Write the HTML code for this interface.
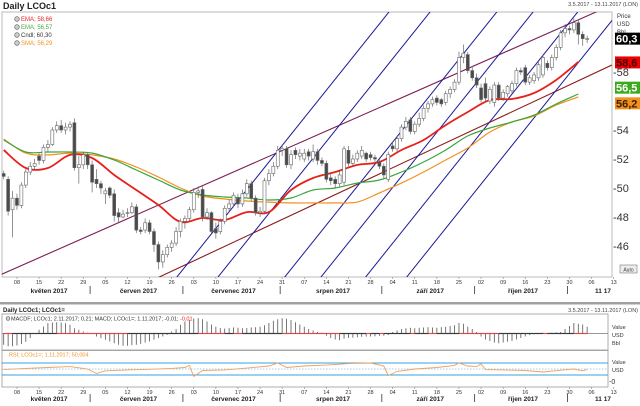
<!DOCTYPE html>
<html><head><meta charset="utf-8">
<style>
html,body{margin:0;padding:0;background:#fff;}
svg{display:block;font-family:"Liberation Sans",sans-serif;}
</style></head>
<body>
<svg id="chart" width="640" height="406" viewBox="0 0 640 406" xmlns="http://www.w3.org/2000/svg">
<defs>
<clipPath id="mainClip"><rect x="2" y="12" width="610" height="265"/></clipPath>
<clipPath id="macdClip"><rect x="2" y="314" width="606" height="36"/></clipPath>
<clipPath id="rsiClip"><rect x="2" y="351" width="606" height="36"/></clipPath>
</defs>
<text x="3" y="9" font-size="9" font-weight="bold" fill="#222">Daily LCOc1</text>
<text x="638" y="6" font-size="5.5" fill="#444" text-anchor="end">3.5.2017 - 13.11.2017 (LON)</text>
<rect x="2" y="12" width="610" height="265" fill="#fff" stroke="#bbb" stroke-width="1"/>
<g id="trend" clip-path="url(#mainClip)"></g>
<g id="mas" clip-path="url(#mainClip)"></g>
<g id="candles" clip-path="url(#mainClip)"></g>
<g font-size="6">
 <g><circle cx="17" cy="19" r="2.3" fill="#ccc" stroke="#555" stroke-width="0.6"/><text x="21" y="21" fill="#e22">EMA; 58,66</text></g>
 <g><circle cx="17" cy="27" r="2.3" fill="#ccc" stroke="#555" stroke-width="0.6"/><text x="21" y="29" fill="#4a4">EMA; 56,57</text></g>
 <g><circle cx="17" cy="35" r="2.3" fill="#ccc" stroke="#555" stroke-width="0.6"/><text x="21" y="37" fill="#333">Cndl; 60,30</text></g>
 <g><circle cx="17" cy="43" r="2.3" fill="#ccc" stroke="#555" stroke-width="0.6"/><text x="21" y="45" fill="#f39020">SMA; 56,29</text></g>
</g>
<g id="priceAxis" font-size="6">
 <text x="617" y="18" fill="#333">Price</text>
 <text x="617" y="26" fill="#333">USD</text>
 <text x="617" y="34" fill="#333">Bbl</text>
</g>
<g id="xaxisMain"></g>
<rect x="0" y="302" width="640" height="2.5" fill="#a0a0a0"/>
<text x="3" y="312" font-size="6" font-weight="bold" fill="#222">Daily LCOc1; LCOc1=</text>
<text x="638" y="312" font-size="5.5" fill="#444" text-anchor="end">3.5.2017 - 13.11.2017 (LON)</text>
<rect x="2" y="314" width="606" height="36" fill="#fff" stroke="#999" stroke-width="0.8"/>
<rect x="2" y="350.5" width="606" height="36.5" fill="#fff" stroke="#999" stroke-width="0.8"/>
<g id="macd" clip-path="url(#macdClip)"></g>
<g id="rsi" clip-path="url(#rsiClip)"></g>
<g font-size="5.5">
 <circle cx="8" cy="318.5" r="2" fill="#ccc" stroke="#555" stroke-width="0.5"/>
 <text x="11" y="320.5" fill="#333">MACDF; LCOc1; 2.11.2017; 0,21; MACD; LCOc1=; 1.11.2017; -0,01; <tspan fill="#e22">-0,01</tspan></text>
</g>
<text x="9" y="356.5" font-size="5.5" fill="#f39020">RSI; LCOc1=; 1.11.2017; 50,004</text>
<g font-size="5.5" fill="#333">
 <text x="612" y="329">Value</text><text x="612" y="337">USD</text><text x="612" y="345">Bbl</text>
</g>
<g font-size="5.5" fill="#333">
 <text x="612" y="364">Value</text><text x="612" y="372">USD</text><text x="609" y="384" font-size="7">-0</text>
</g>
<g id="xaxisLow"></g>
<g><rect x="620" y="265" width="17" height="8" fill="#eee" stroke="#777" stroke-width="0.6"/><text x="628.5" y="271.5" font-size="5" text-anchor="middle" fill="#333">Auto</text></g>
</svg>
<script>
// ---- data ----
var opens=[51.0,50.6,48.5,49.3,48.8,50.2,51.1,51.5,52.2,51.9,52.8,53.0,54.0,54.3,54.0,54.2,54.5,51.4,51.6,52.3,51.6,50.6,50.3,49.6,50.0,49.6,48.3,48.0,48.3,48.3,48.7,47.1,47.1,47.6,47.0,46.1,44.9,45.4,45.9,46.2,47.0,47.7,47.9,48.5,49.7,49.9,48.0,48.3,47.2,47.0,47.7,48.6,48.9,49.3,48.9,49.6,50.3,49.3,48.3,48.4,50.5,51.0,51.5,52.6,52.7,51.6,52.6,52.2,52.0,52.5,52.0,52.5,51.9,51.7,50.7,50.6,50.3,50.4,52.6,51.7,52.0,52.2,52.4,52.3,52.1,51.8,51.5,50.6,52.9,52.7,53.4,54.2,54.7,53.9,54.4,54.8,55.5,55.8,56.2,56.1,55.9,56.5,56.8,57.3,59.0,59.2,58.1,57.6,56.9,57.2,56.0,55.9,57.1,56.2,56.5,56.7,57.2,58.1,58.3,57.3,57.4,57.6,57.8,58.6,58.3,59.0,59.7,60.7,61.0,60.9,61.4,60.6,60.3];
var highs=[51.2,50.8,49.8,49.6,50.4,51.3,51.8,52.0,52.4,53.0,53.3,54.2,54.6,54.7,54.5,54.6,54.8,52.2,52.5,52.4,51.9,51.3,50.5,50.0,50.1,49.9,48.6,48.5,48.6,49.0,48.9,47.3,47.9,47.8,47.2,46.3,45.7,46.1,46.4,47.3,47.9,48.1,48.7,50.0,50.1,50.1,48.6,48.4,47.6,47.9,48.8,49.2,49.7,49.6,49.9,50.6,50.5,49.5,48.7,50.7,51.3,51.8,52.9,53.0,52.9,52.6,52.8,52.7,52.7,52.7,53.0,52.7,52.1,51.9,51.0,50.8,51.2,52.9,52.9,52.3,52.6,52.9,52.5,52.5,52.3,52.0,51.7,52.5,53.2,53.6,54.4,54.9,54.9,54.6,55.2,55.7,56.0,56.3,56.4,56.2,56.7,57.0,57.5,59.4,59.9,59.4,58.4,57.9,57.2,57.6,57.0,57.3,57.3,56.8,57.1,57.4,58.3,58.3,58.5,57.8,58.0,58.7,59.2,58.8,59.2,59.9,60.9,61.3,61.2,61.7,61.6,60.8,60.5];
var lows=[50.6,48.1,46.6,48.5,48.6,50.0,50.9,51.2,51.6,51.7,52.5,52.9,53.8,53.8,53.7,53.9,51.2,50.3,51.3,51.3,49.7,50.0,49.6,48.9,49.3,47.7,47.6,47.9,48.0,48.2,46.9,46.8,46.9,46.8,45.6,44.4,44.5,45.2,45.6,46.0,46.6,47.2,47.7,48.3,49.3,47.7,47.8,46.9,46.5,46.8,47.5,48.3,48.7,48.6,48.7,49.4,49.1,48.1,48.0,48.2,50.2,50.8,51.3,52.2,51.4,51.3,52.0,51.9,51.8,51.9,51.8,51.6,51.5,50.4,50.2,50.0,50.1,50.2,51.5,51.5,51.8,52.0,51.8,51.9,51.8,51.3,50.6,50.4,52.5,52.5,53.2,54.0,53.7,53.7,54.2,54.6,55.2,55.6,55.7,55.6,55.7,56.2,56.6,57.1,58.6,57.9,57.4,56.9,55.9,55.9,55.8,55.6,56.0,56.0,56.3,56.5,57.0,57.8,57.1,57.1,57.2,57.4,57.6,58.1,58.1,58.8,59.5,60.4,60.6,60.7,59.9,59.8,60.0];
var closes=[50.8,48.4,49.3,48.8,50.2,51.1,51.5,51.7,51.9,52.8,53.0,54.0,54.3,54.0,54.2,54.4,51.4,51.6,52.3,51.6,50.4,50.3,50.0,49.8,49.5,48.1,48.0,48.2,48.3,48.7,47.1,47.0,47.6,47.0,46.1,44.9,45.4,45.9,46.2,47.0,47.7,47.9,48.5,49.7,49.8,48.0,48.3,47.0,46.9,47.7,48.6,48.9,49.5,48.9,49.6,50.3,49.3,48.3,48.4,50.5,51.0,51.5,52.6,52.7,51.6,52.3,52.3,52.4,52.4,52.2,52.5,51.9,51.7,50.6,50.5,50.3,50.9,52.7,51.7,52.0,52.4,52.6,52.0,52.1,52.0,51.5,50.9,52.3,52.7,53.4,54.2,54.6,53.9,54.4,54.8,55.5,55.8,56.1,55.9,55.8,56.5,56.8,57.3,59.0,59.3,58.1,57.6,57.1,56.1,56.2,56.8,57.1,56.2,56.6,57.0,57.2,58.1,58.0,57.3,57.6,57.8,58.5,59.0,58.3,59.0,59.7,60.7,61.0,60.9,61.4,60.6,60.3,60.3];
// moving averages sampled every 5 trading days (index 0,5,...,130)
var emaFast=[52.62,51.38,51.38,52.28,52.07,50.9,49.86,48.83,47.66,47.93,47.79,48.34,48.34,49.86,50.69,51.1,51.59,51.79,52.62,53.31,54.34,55.24,56.07,56.14,56.55,57.45,58.69];
var emaSlow=[53.31,52.48,52.48,52.48,52.41,51.93,51.24,50.55,49.86,49.52,49.38,49.31,49.17,49.31,49.86,50.0,50.34,50.55,51.1,51.79,52.62,53.59,54.14,54.55,55.03,55.79,56.48];
var smaLine=[53.38,52.41,52.28,52.41,52.28,52.0,51.45,50.76,50.0,49.45,49.24,49.1,49.03,48.97,48.97,48.97,49.03,49.66,50.34,51.1,51.93,52.76,53.86,54.55,54.97,55.72,56.28];
var macdHist=[-0.75,-0.85,-0.85,-0.8,-0.7,-0.55,-0.3,0.0,0.25,0.47,0.69,0.73,0.75,0.73,0.69,0.58,0.35,0.25,0.13,0.05,0.02,-0.2,-0.31,-0.42,-0.53,-0.65,-0.75,-0.82,-0.82,-0.78,-0.75,-0.69,-0.6,-0.53,-0.42,-0.31,-0.2,-0.09,0.13,0.29,0.58,0.8,0.9,1.0,1.02,0.95,0.8,0.6,0.45,0.36,0.33,0.36,0.4,0.38,0.35,0.36,0.4,0.42,0.45,0.55,0.7,0.85,0.95,1.02,0.98,0.9,0.75,0.6,0.45,0.3,0.2,0.1,0.05,-0.15,-0.3,-0.4,-0.45,-0.35,-0.3,-0.28,-0.25,-0.22,-0.2,-0.2,-0.18,-0.15,-0.15,-0.1,0.1,0.2,0.3,0.35,0.38,0.35,0.38,0.4,0.42,0.4,0.38,0.42,0.45,0.5,0.55,0.7,0.65,0.45,0.3,0.1,-0.2,-0.4,-0.5,-0.6,-0.65,-0.6,-0.55,-0.5,-0.4,-0.3,-0.2,-0.1,-0.05,0.02,0.05,0.03,0.06,0.08,0.1,0.3,0.5,0.7,0.65,0.6,0.45];
var rsiIdx=[0,5,10,15,19,21,23,28,33,38,41,42,43,45,50,55,60,62,64,68,73,78,83,86,87,89,93,98,102,103,105,107,108,109,113,118,122,126,129,131,132];
var rsiVal=[48,52,55,58,50,35,44,47,49,52,55,62,25,45,47,53,60,70,55,60,63,68,70,60,28,42,50,55,62,70,60,58,67,48,47,45,40,46,50,44,48];
var weekTicks=["08","15","22","29","05","12","19","26","03","10","17","24","31","07","14","21","28","04","11","18","25","02","09","16","23","30","06","13"];
var monthLabels=["květen 2017","červen 2017","červenec 2017","srpen 2017","září 2017","říjen 2017","11 17"];
var monthStartIdx=[-2,20,41,63,86,107,128,139];
var priceTicks=[58,54,52,50,48,46];
var trendPurple=[-0.84,44.0,137.6,62.62];
var trendBrown=[34.7,43.79,137.6,58.48];
var blueStarts=[39.0,48.3,63.4,71.6,81.7,91.0];

// ---- scales ----
var NS="http://www.w3.org/2000/svg";
function xS(i){return 3.7+4.42*i;}
function yS(p){return 188-(p-50)*14.5;}
function macdY(v){return 333.5-v*15;}
function rsiY(v){return 369-(v-50)*0.3;}
function mk(tag,attrs,parent){var e=document.createElementNS(NS,tag);for(var k in attrs)e.setAttribute(k,attrs[k]);parent.appendChild(e);return e;}
function smoothPath(pts){
  var d='M'+pts[0][0].toFixed(1)+','+pts[0][1].toFixed(1);
  for(var k=0;k<pts.length-1;k++){
    var p0=pts[Math.max(0,k-1)],p1=pts[k],p2=pts[k+1],p3=pts[Math.min(pts.length-1,k+2)];
    var c1x=p1[0]+(p2[0]-p0[0])/6,c1y=p1[1]+(p2[1]-p0[1])/6;
    var c2x=p2[0]-(p3[0]-p1[0])/6,c2y=p2[1]-(p3[1]-p1[1])/6;
    d+=' C'+c1x.toFixed(1)+','+c1y.toFixed(1)+' '+c2x.toFixed(1)+','+c2y.toFixed(1)+' '+p2[0].toFixed(1)+','+p2[1].toFixed(1);
  }
  return d;
}

(function(){
// trend lines
var tg=document.getElementById('trend');
var l1=mk('line',{x1:xS(trendPurple[0]),y1:yS(trendPurple[1]),x2:xS(trendPurple[2]),y2:yS(trendPurple[3]),stroke:'#7d1f55','stroke-width':1.1},tg);


var l2=mk('line',{x1:xS(trendBrown[0]),y1:yS(trendBrown[1]),x2:xS(trendBrown[2]),y2:yS(trendBrown[3]),stroke:'#8b1c1c','stroke-width':1.1},tg);


blueStarts.forEach(function(s){
  var ln=mk('line',{x1:xS(s),y1:yS(43.79),x2:xS(s+48.9),y2:yS(43.79+48.9*0.381),stroke:'#1a1a9a','stroke-width':1},tg);
  
  
});

// moving averages
var mg=document.getElementById('mas');
function maLine(arr,color,w,name){
  var pts=arr.map(function(v,k){return [xS(k*5),yS(v)];});
  var pl=mk('path',{d:smoothPath(pts),fill:'none',stroke:color,'stroke-width':w,'stroke-linejoin':'round'},mg);
  
  
}
maLine(smaLine,'#f39020',1.2,'sma-line');
maLine(emaSlow,'#3aa53a',1.2,'ema-slow-line');
maLine(emaFast,'#e8201a',1.8,'ema-fast-line');

// candles
var cg=document.getElementById('candles');
for(var i=0;i<closes.length;i++){
  var cx=xS(i),o=opens[i],c=closes[i];
  var wk=mk('line',{x1:cx,x2:cx,y1:yS(highs[i]),y2:yS(lows[i]),stroke:'#666','stroke-width':0.7},cg);
  
  
  var bTop=yS(Math.max(o,c)),bBot=yS(Math.min(o,c));
  var r=mk('rect',{x:cx-1.5,y:bTop,width:3,height:Math.max(0.8,bBot-bTop),fill:c>=o?'#fff':'#4a4a4a',stroke:'#666','stroke-width':0.6},cg);
  
  
}

// price axis
var pa=document.getElementById('priceAxis');
priceTicks.forEach(function(p){
  var t=mk('text',{x:613,y:yS(p)+4,'font-size':11,fill:'#333'},pa);t.textContent='-'+p;
  
  
});
function tag(val,p,bg,fg,name){
  var g=mk('g',{},pa);
  
  
  mk('rect',{x:615,y:yS(p)-6,width:25,height:12,fill:bg},g);
  var t=mk('text',{x:616,y:yS(p)+4,'font-size':11,fill:fg,'font-weight':'bold'},g);t.textContent=val;
}
tag('60,3',60.3,'#000','#fff','last-price-tag');
tag('58,6',58.66,'#e00','#400','ema-fast-tag');
tag('56,5',56.57+0.35,'#3caa1e','#fff','ema-slow-tag');
tag('56,2',56.29-0.45,'#f0901e','#402000','sma-tag');

// x axes
function xAxis(gid,yDay,yMon){
  var g=document.getElementById(gid);
  weekTicks.forEach(function(lbl,k){
    var x=xS(3+k*5);
    mk('line',{x1:x,x2:x,y1:yDay-7,y2:yDay-5,stroke:'#888','stroke-width':0.6},g);
    var t=mk('text',{x:x,y:yDay,'font-size':5.5,'text-anchor':'middle',fill:'#333'},g);t.textContent=lbl;
    
    
  });
  monthLabels.forEach(function(lbl,k){
    var a=xS(monthStartIdx[k]),b=xS(Math.min(monthStartIdx[k+1],136));
    if(k>0){mk('line',{x1:a-2,x2:a-2,y1:yMon-7,y2:yMon+1,stroke:'#333','stroke-width':0.8},g);}
    var mx=k==6?603:(Math.max(a,6)+b)/2;
    var t=mk('text',{x:mx,y:yMon,'font-size':6.5,'font-weight':'bold','text-anchor':'middle',fill:'#222'},g);t.textContent=lbl;
    
    
  });
}
xAxis('xaxisMain',284,293);
xAxis('xaxisLow',394,401);

// macd
var mcg=document.getElementById('macd');
mk('line',{x1:2,x2:608,y1:macdY(0),y2:macdY(0),stroke:'#777','stroke-width':0.8},mcg);
macdHist.forEach(function(v,i){
  var b=mk('line',{x1:xS(i),x2:xS(i),y1:macdY(0),y2:macdY(v),stroke:'#555','stroke-width':0.8},mcg);
  
  
});
for(var j=0;j<macdHist.length-1;j++){
  var s=mk('line',{x1:xS(j),x2:xS(j+1),y1:macdY(0),y2:macdY(0),stroke:macdHist[j]<macdHist[j+1]?'#222':'#e33','stroke-width':1.2,opacity:0.8},mcg);
  
  
}

// rsi
var rg=document.getElementById('rsi');
[70,30].forEach(function(v){mk('line',{x1:2,x2:608,y1:rsiY(v),y2:rsiY(v),stroke:'#3aa0e0','stroke-width':1},rg);});
mk('line',{x1:2,x2:608,y1:rsiY(50),y2:rsiY(50),stroke:'#3aa0e0','stroke-width':0.6,'stroke-dasharray':'1.5,1.5'},rg);
var rp=rsiIdx.map(function(ix,k){return xS(ix).toFixed(1)+','+rsiY(rsiVal[k]).toFixed(1);}).join(' ');
var rl=mk('polyline',{points:rp,fill:'none',stroke:'#f0a060','stroke-width':0.9},rg);


})();
</script>
</body></html>
